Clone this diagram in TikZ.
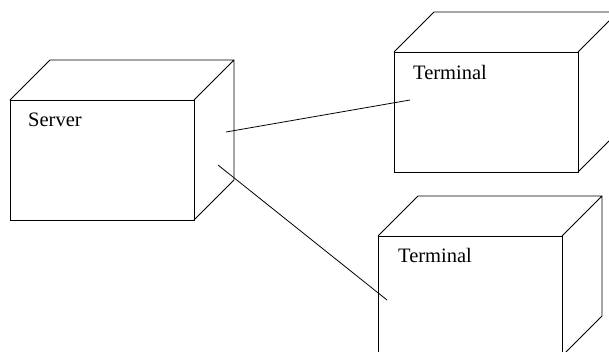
\documentclass[tikz,border=0pt]{standalone}
\usepackage{fontspec}
\setmainfont{Liberation Serif}
\usetikzlibrary{calc}
\tikzset{
  face/.style={draw, line width=0.8pt, minimum width=184pt, minimum height=120pt, inner sep=0pt, outer sep=0pt, anchor=north west},
  boxedge/.style={line width=0.8pt, line join=miter},
  lbl/.style={font=\fontsize{20.5}{24}\selectfont, inner sep=0pt, anchor=base west},
  link/.style={line width=0.8pt}
}
\begin{document}
\begin{tikzpicture}[x=1pt,y=-1pt]
\useasboundingbox (0,0) rectangle (609,351);
\clip (0,0) rectangle (609,351);
\node[face] (server) at (10,100) {};
\node[face] (term1) at (394,52) {};
\node[face] (term2) at (378,236) {};
\foreach \n in {server,term1,term2}{
  \draw[boxedge] (\n.north west) -- ++(40,-40) -- ++(184,0) -- ++(0,120) -- (\n.south east)
    (\n.north east) -- ++(40,-40);
}
\node[lbl] (serverlbl) at ($(server.north west)+(18,26)$) {Server};
\node[lbl] (term1lbl) at ($(term1.north west)+(19,27)$) {Terminal};
\node[lbl] (term2lbl) at ($(term2.north west)+(20,26)$) {Terminal};
\coordinate (s1) at ($(server.east)+(32,-28)$);
\coordinate (t1) at ($(term1.west)+(16,-12)$);
\coordinate (s2) at ($(server.east)+(24,5)$);
\coordinate (t2) at ($(term2.west)+(9,4)$);
\draw[link] (s1) -- (t1);
\draw[link] (s2) -- (t2);
\end{tikzpicture}
\end{document}
